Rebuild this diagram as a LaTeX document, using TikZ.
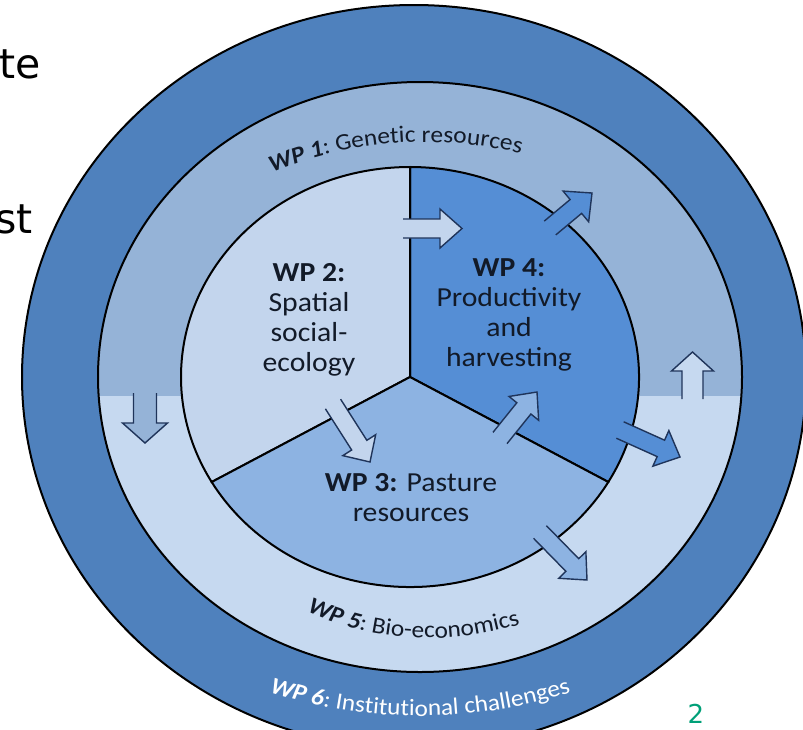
\documentclass[tikz,border=0pt]{standalone}
\usepackage{fontspec}
\setmainfont{Carlito}[FakeStretch=1.08]
\newfontfamily\djv{DejaVu Sans}
\usetikzlibrary{calc,decorations.text}
\definecolor{wpsix}{RGB}{79,129,189}
\definecolor{wpone}{RGB}{149,179,215}
\definecolor{wpfive}{RGB}{198,217,240}
\definecolor{wptwo}{RGB}{195,213,237}
\definecolor{wpthree}{RGB}{141,179,226}
\definecolor{wpfour}{RGB}{85,142,213}
\definecolor{arrowblue}{RGB}{31,52,90}
\definecolor{labeltext}{RGB}{18,26,40}
\definecolor{pagegreen}{RGB}{0,160,120}
\tikzset{
  ringline/.style={draw=black, line width=2pt},
  arrowline/.style={draw=arrowblue, line width=1.4pt, line join=miter},
  wplabel/.style={text=labeltext, align=center, inner sep=0pt, font=\fontsize{27.5}{30}\selectfont},
  slidetext/.style={inner sep=0pt, font=\djv\fontsize{41}{41}\selectfont, text=black},
}
\newcommand\blockarrow[6]{%
  \coordinate (bt) at #2;
  \coordinate (bp) at #3;
  \coordinate (bh) at ($(bp)!#6pt!(bt)$);
  \filldraw[arrowline, fill=#1] ($(bt)!#4pt!90:(bp)$) -- ($(bh)!#4pt!90:(bp)$) -- ($(bh)!#5pt!90:(bp)$) -- (bp) -- ($(bh)!#5pt!-90:(bp)$) -- ($(bh)!#4pt!-90:(bp)$) -- ($(bt)!#4pt!-90:(bp)$);
}
\begin{document}
\begin{tikzpicture}[x=1pt,y=1pt]
\useasboundingbox (0,0) rectangle (803,-729);
\fill[white] (0,0) rectangle (803,-729);
\begin{scope}
\clip (0,0) rectangle (803,-729);
% WP6 outer ring
\filldraw[ringline, fill=wpsix] (414,-377) ellipse[x radius=392, y radius=372];
% WP1 / WP5 ring
\begin{scope}
  \clip (420,-377) ellipse[x radius=322, y radius=295];
  \fill[wpone] (0,0) rectangle (803,-396);
  \fill[wpfive] (0,-396) rectangle (803,-729);
\end{scope}
\draw[ringline] (420,-377) ellipse[x radius=322, y radius=295];
% inner circle sectors
\coordinate (c) at (410,-377);
\filldraw[ringline, fill=wpfour] (c) -- ($(c)+(-30:229 and 210)$) arc[start angle=-30, end angle=90, x radius=229, y radius=210] -- cycle;
\filldraw[ringline, fill=wptwo] (c) -- ($(c)+(90:229 and 210)$) arc[start angle=90, end angle=210, x radius=229, y radius=210] -- cycle;
\filldraw[ringline, fill=wpthree] (c) -- ($(c)+(210:229 and 210)$) arc[start angle=210, end angle=330, x radius=229, y radius=210] -- cycle;
% arrows
\blockarrow{wptwo}{(403,-228.5)}{(462,-228.5)}{9.5}{19.5}{22}
\blockarrow{wpfour}{(550,-228)}{(592,-193)}{9}{20}{21}
\blockarrow{wptwo}{(333,-404)}{(370,-462)}{9}{19.5}{20}
\blockarrow{wpthree}{(500,-438)}{(537,-392)}{9}{19}{21}
\blockarrow{wpfour}{(620,-430)}{(680,-457)}{9}{19.5}{21}
\blockarrow{wpthree}{(540,-532)}{(587,-580)}{9}{19}{21}
\blockarrow{wpone}{(145,-393)}{(145,-443)}{11.5}{22.5}{20}
\blockarrow{wpfive}{(692.5,-399)}{(692.5,-352)}{10.5}{21}{19}
% inner labels
\node[wplabel] (wp2) at (309,-320) {\textbf{WP 2:}\\Spatial\\social-\\ecology};
\node[wplabel] (wp4) at (509,-315) {\textbf{WP 4:}\\Productivity\\and\\harvesting};
\node[wplabel] (wp3) at (411,-498) {\textbf{WP 3:} Pasture\\resources};
% ring labels
\path[decorate, decoration={text along path, text align=center, text color=labeltext,
  text={|\fontsize{23.5}{24}\selectfont\bfseries\itshape|WP 1|\fontsize{23.5}{24}\selectfont\mdseries\upshape|: Genetic resources}}]
  ($(425,-542)+(134.3:400)$) arc[start angle=134.3, end angle=54.3, radius=400];
\path[decorate, decoration={text along path, text align=center, text color=labeltext,
  text={|\fontsize{23.5}{24}\selectfont\bfseries\itshape|WP 5|\fontsize{23.5}{24}\selectfont\mdseries\upshape|: Bio-economics}}]
  ($(430,-338)+(226.6:300)$) arc[start angle=226.6, end angle=306.6, radius=300];
\path[decorate, decoration={text along path, text align=center, text color=white,
  text={|\fontsize{23.5}{24}\selectfont\bfseries\itshape|WP 6|\fontsize{23.5}{24}\selectfont\mdseries\upshape|: Institutional challenges}}]
  ($(420,-226)+(240:490)$) arc[start angle=240, end angle=300, radius=490];
\end{scope}
% slide fragments
\node[slidetext, anchor=base east] (te) at (41,-78) {te};
\node[slidetext, anchor=base east] (st) at (33,-233) {st};
\node[inner sep=0pt, text=pagegreen, font=\djv\fontsize{26}{26}\selectfont, anchor=base] (pg) at (696,-723) {2};
\end{tikzpicture}
\end{document}
